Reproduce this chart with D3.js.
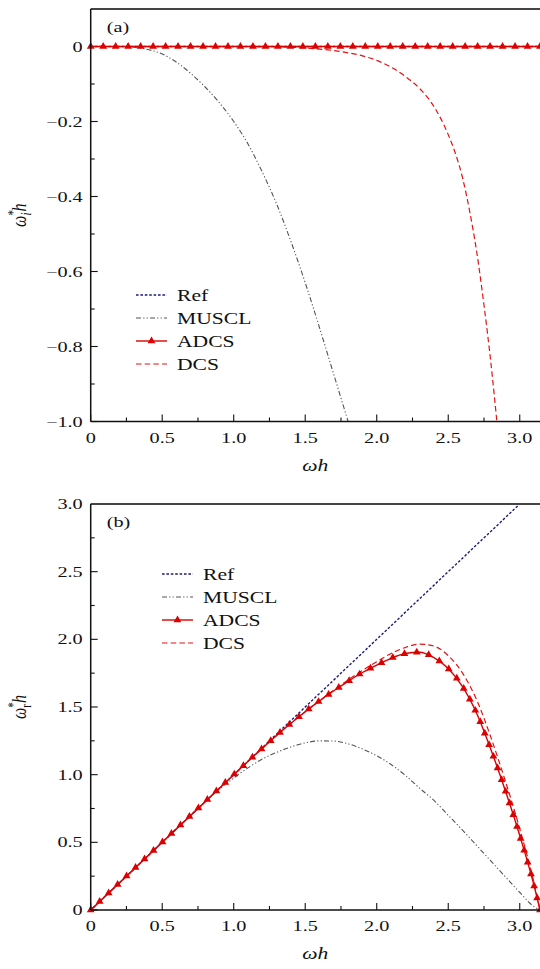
<!DOCTYPE html>
<html><head><meta charset="utf-8">
<script src="https://cdn.jsdelivr.net/npm/d3@7"></script>
<style>body{margin:0;background:#fff}svg{display:block}</style>
</head><body>
<script>
// ---------- data ----------
const xTicks = [0, 0.5, 1.0, 1.5, 2.0, 2.5, 3.0];
const xTickLabels = ["0", "0.5", "1.0", "1.5", "2.0", "2.5", "3.0"];
const xMinorTicks = [0.25, 0.75, 1.25, 1.75, 2.25, 2.75];
const topYTicks = [0, -0.2, -0.4, -0.6, -0.8, -1.0];
const topYTickLabels = ["0", "−0.2", "−0.4", "−0.6", "−0.8", "−1.0"];
const topYMinorTicks = [-0.1, -0.3, -0.5, -0.7, -0.9];
const botYTicks = [0, 0.5, 1.0, 1.5, 2.0, 2.5, 3.0];
const botYTickLabels = ["0", "0.5", "1.0", "1.5", "2.0", "2.5", "3.0"];
const botYMinorTicks = [0.25, 0.75, 1.25, 1.75, 2.25, 2.75];
const seriesNames = ["Ref", "MUSCL", "ADCS", "DCS"];

// panel (a): imaginary part
const aRefX = [0, 3.14159];
const aRefY = [0, 0];
const aAdcsX = [0, 3.14159];
const aAdcsY = [0, 0];
const aMusclX = [0, 0.2, 0.3, 0.4, 0.5, 0.6, 0.7, 0.8, 0.9, 1.0, 1.1, 1.2, 1.3, 1.4, 1.5, 1.6, 1.7, 1.8];
const aMusclY = [0, 0, -0.002, -0.008, -0.02, -0.042, -0.072, -0.108, -0.15, -0.2, -0.26, -0.335, -0.42, -0.52, -0.63, -0.75, -0.875, -1.0];
const aDcsX = [0, 1.1, 1.3, 1.5, 1.7, 1.9, 2.0, 2.1, 2.2, 2.3, 2.4, 2.5, 2.55, 2.6, 2.65, 2.7, 2.75, 2.8, 2.84];
const aDcsY = [0, 0, -0.001, -0.004, -0.011, -0.025, -0.037, -0.055, -0.08, -0.112, -0.16, -0.235, -0.285, -0.35, -0.44, -0.55, -0.69, -0.85, -1.0];

// panel (b): real part
const bRefX = [0, 3.14159];
const bRefY = [0, 3.14159];
const bX = [0, 0.1, 0.2, 0.3, 0.4, 0.5, 0.6, 0.7, 0.8, 0.9, 1.0, 1.1, 1.2, 1.3, 1.4, 1.5, 1.6, 1.7, 1.8, 1.9, 2.0, 2.1, 2.2, 2.3, 2.4, 2.5, 2.6, 2.7, 2.8, 2.9, 3.0, 3.1, 3.14159];
const bAdcsY = [0, 0.1, 0.2, 0.3, 0.4, 0.5, 0.6, 0.7, 0.8, 0.9, 1.0, 1.098, 1.195, 1.29, 1.38, 1.465, 1.545, 1.62, 1.69, 1.755, 1.81, 1.86, 1.895, 1.905, 1.865, 1.785, 1.65, 1.45, 1.18, 0.88, 0.55, 0.18, 0];
const bDcsY = [0, 0.1, 0.2, 0.3, 0.4, 0.5, 0.6, 0.7, 0.8, 0.9, 1.0, 1.098, 1.195, 1.29, 1.38, 1.465, 1.547, 1.625, 1.70, 1.77, 1.835, 1.895, 1.94, 1.965, 1.95, 1.88, 1.75, 1.55, 1.27, 0.95, 0.6, 0.2, 0];
const bMusclY = [0, 0.1, 0.2, 0.3, 0.4, 0.5, 0.6, 0.7, 0.8, 0.893, 0.975, 1.05, 1.115, 1.165, 1.205, 1.235, 1.25, 1.248, 1.228, 1.19, 1.14, 1.075, 0.995, 0.9, 0.81, 0.70, 0.59, 0.475, 0.36, 0.245, 0.13, 0.025, 0];

// ---------- style ----------
const W = 540, H = 969;
const SX = 1.35;            // horizontal stretch of the text
const FONT = "'Liberation Serif', 'Times New Roman', serif";
const C = {Ref: "#1c1c7c", MUSCL: "#555555", ADCS: "#dc0000", DCS: "#e81010"};
const DASH = {Ref: "2.6,1.8", MUSCL: "5,2.2,1.2,2.2,1.2,2.2", ADCS: null, DCS: "5.5,3.2"};
const WIDTH = {Ref: 1.4, MUSCL: 1.1, ADCS: 1.4, DCS: 1.2};

const svg = d3.select("body").append("svg").attr("width", W).attr("height", H)
  .style("font-family", FONT);

function txt(g, x, y, str, size, anchor, italic) {
  return g.append("text")
    .attr("transform", `translate(${x},${y}) scale(${SX},1)`)
    .attr("text-anchor", anchor || "start")
    .attr("font-size", size)
    .attr("font-style", italic ? "italic" : "normal")
    .attr("fill", "#111")
    .text(str);
}

function panel(cfg) {
  const g = svg.append("g");
  const x = d3.scaleLinear().domain([0, Math.PI]).range([cfg.left, cfg.right]);
  const y = d3.scaleLinear().domain(cfg.yDomain).range([cfg.bottom, cfg.top]);

  const clipId = "clip" + cfg.id;
  svg.append("clipPath").attr("id", clipId).append("rect")
    .attr("x", cfg.left).attr("y", cfg.top - 1)
    .attr("width", cfg.right - cfg.left + 5).attr("height", cfg.bottom - cfg.top + 2);

  // ticks (inward)
  const tickG = g.append("g").attr("stroke", "#111").attr("stroke-width", 1.1);
  xTicks.forEach(v => tickG.append("line").attr("x1", x(v)).attr("x2", x(v)).attr("y1", cfg.bottom).attr("y2", cfg.bottom - 7));
  xMinorTicks.forEach(v => tickG.append("line").attr("x1", x(v)).attr("x2", x(v)).attr("y1", cfg.bottom).attr("y2", cfg.bottom - 4));
  cfg.yTicks.forEach(v => tickG.append("line").attr("x1", cfg.left).attr("x2", cfg.left + 7).attr("y1", y(v)).attr("y2", y(v)));
  cfg.yMinor.forEach(v => tickG.append("line").attr("x1", cfg.left).attr("x2", cfg.left + 4).attr("y1", y(v)).attr("y2", y(v)));

  // tick labels
  xTicks.forEach((v, i) => txt(g, x(v), cfg.bottom + 21, xTickLabels[i], 15, "middle"));
  cfg.yTicks.forEach((v, i) => txt(g, cfg.left - 8, y(v) + 5, cfg.yLabels[i], 15, "end"));

  // curves
  const line = d3.line().x(d => x(d[0])).y(d => y(d[1])).curve(d3.curveMonotoneX);
  const cg = g.append("g").attr("clip-path", `url(#${clipId})`);
  const draw = (name, xs, ys) => cg.append("path")
    .datum(xs.map((v, i) => [v, ys[i]]))
    .attr("d", line).attr("fill", "none")
    .attr("stroke", C[name]).attr("stroke-width", WIDTH[name])
    .attr("stroke-dasharray", DASH[name]);
  draw("Ref", cfg.refX, cfg.refY);
  draw("MUSCL", cfg.musclX, cfg.musclY);
  draw("DCS", cfg.dcsX, cfg.dcsY);
  const adcs = draw("ADCS", cfg.adcsX, cfg.adcsY);

  // markers at even arc-length along the ADCS curve
  const node = adcs.node();
  const L = node.getTotalLength();
  const n = Math.round(L / 12.45);
  const tri = d3.symbol().type(d3.symbolTriangle).size(26);
  for (let k = 0; k <= n; k++) {
    const p = node.getPointAtLength(L * k / n);
    g.append("path").attr("d", tri).attr("transform", `translate(${p.x},${p.y})`).attr("fill", C.ADCS);
  }

  // spines
  g.append("line").attr("x1", cfg.left).attr("x2", cfg.right + 5).attr("y1", cfg.top).attr("y2", cfg.top)
    .attr("stroke", "#444").attr("stroke-width", 1.8);
  g.append("line").attr("x1", cfg.left).attr("x2", cfg.left).attr("y1", cfg.top).attr("y2", cfg.bottom)
    .attr("stroke", "#111").attr("stroke-width", 1.5);
  g.append("line").attr("x1", cfg.left).attr("x2", cfg.right + 5).attr("y1", cfg.bottom).attr("y2", cfg.bottom)
    .attr("stroke", "#111").attr("stroke-width", 1.5);

  // panel tag
  txt(g, cfg.left + 16, cfg.top + 23, cfg.tag, 15, "start");

  // x label
  g.append("text")
    .attr("transform", `translate(${(cfg.left + cfg.right) / 2},${cfg.bottom + 49}) scale(${SX},1)`)
    .attr("text-anchor", "middle").attr("font-size", 16).attr("font-style", "italic").attr("fill", "#111")
    .text("ωh");

  // y label
  const yl = g.append("text")
    .attr("transform", `translate(26,${(cfg.top + cfg.bottom) / 2}) scale(${SX},1) rotate(-90)`)
    .attr("text-anchor", "middle").attr("font-size", 16).attr("fill", "#111");
  yl.append("tspan").attr("font-style", "italic").text("ω");
  yl.append("tspan").attr("font-size", 11).attr("dy", -6).text("*");
  yl.append("tspan").attr("font-size", 11).attr("dx", -5.5).attr("dy", 10)
    .attr("font-style", cfg.subItalic ? "italic" : "normal").text(cfg.sub);
  yl.append("tspan").attr("font-style", "italic").attr("dy", -4).attr("dx", 1).text("h");

  // legend
  const lg = g.append("g");
  seriesNames.forEach((name, i) => {
    const yy = cfg.legY + i * 23;
    lg.append("line").attr("x1", cfg.legX).attr("x2", cfg.legX + 31).attr("y1", yy).attr("y2", yy)
      .attr("stroke", C[name]).attr("stroke-width", WIDTH[name]).attr("stroke-dasharray", DASH[name]);
    if (name === "ADCS") lg.append("path").attr("d", tri).attr("transform", `translate(${cfg.legX + 15.5},${yy})`).attr("fill", C.ADCS);
    txt(lg, cfg.legX + 41, yy + 5.5, name, 16, "start");
  });
}

panel({
  id: "a", left: 90.7, right: 540, top: 9, bottom: 421.5, yDomain: [-1.0, 0.1],
  yTicks: topYTicks, yLabels: topYTickLabels, yMinor: topYMinorTicks,
  refX: aRefX, refY: aRefY, adcsX: aAdcsX, adcsY: aAdcsY,
  musclX: aMusclX, musclY: aMusclY, dcsX: aDcsX, dcsY: aDcsY,
  tag: "(a)", sub: "i", subItalic: true, legX: 136, legY: 295
});

panel({
  id: "b", left: 90.7, right: 540, top: 504, bottom: 910, yDomain: [0, 3.0],
  yTicks: botYTicks, yLabels: botYTickLabels, yMinor: botYMinorTicks,
  refX: bRefX, refY: bRefY, adcsX: bX, adcsY: bAdcsY,
  musclX: bX, musclY: bMusclY, dcsX: bX, dcsY: bDcsY,
  tag: "(b)", sub: "r", subItalic: false, legX: 162, legY: 574
});
</script>
</body></html>
